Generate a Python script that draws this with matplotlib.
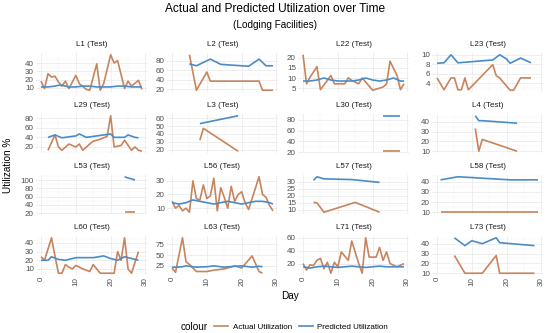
import matplotlib
matplotlib.use("Agg")
import matplotlib.pyplot as plt
from matplotlib.lines import Line2D
import numpy as np

plt.rcParams['font.family'] = ['Liberation Sans', 'DejaVu Sans']

# ---------------- data ----------------
L1_act_days = [0, 1, 2, 3, 4, 5, 6, 7, 8, 10, 11, 13, 14, 16, 17, 18, 20, 21, 22, 24, 25, 26, 28, 29]
L1_act = [18, 9, 27, 23, 24, 17, 12, 18, 9, 25, 15, 8, 7, 39, 7, 15, 50, 40, 43, 9, 18, 12, 19, 8]
L1_pred_days = [0, 2, 4, 5, 6, 8, 10, 12, 14, 16, 18, 20, 22, 24, 26, 28, 29]
L1_pred = [11, 11, 12, 13, 13, 11, 11, 12, 12, 11, 11, 11, 12, 12, 11, 11, 11]
L1_ticks = [10, 20, 30, 40]

L2_act_days = [5, 7, 10, 11, 25, 26, 29]
L2_act = [92, 18, 56, 37, 37, 18, 18]
L2_pred_days = [5, 7, 11, 14, 22, 25, 27, 29]
L2_pred = [73, 69, 83, 72, 68, 83, 69, 69]
L2_ticks = [20, 40, 60, 80]

L22_act_days = [0, 1, 2, 4, 5, 7, 8, 9, 12, 13, 14, 16, 17, 18, 20, 23, 24, 25, 27, 28, 29]
L22_act = [21.6, 7.1, 10.4, 15.7, 4.2, 8.8, 11.3, 7.1, 7.1, 10.1, 8.8, 7.1, 10, 8, 3.9, 5.5, 7.1, 18.4, 11.3, 4.2, 7.1]
L22_pred_days = [0, 2, 4, 6, 8, 10, 12, 14, 16, 18, 20, 22, 24, 26, 28, 29]
L22_pred = [8.5, 8.5, 9, 10, 9, 8.5, 8.5, 8.5, 9, 10, 9, 8.5, 9, 10, 8.5, 8.5]
L22_ticks = [5, 10, 15, 20]

L23_act_days = [0, 2, 4, 5, 6, 7, 8, 9, 16, 17, 18, 21, 22, 24, 27]
L23_act = [5.1, 2.6, 5.1, 5.1, 2.6, 2.6, 5.1, 2.6, 7.9, 5.6, 5.1, 2.5, 2.5, 5.1, 5.1]
L23_pred_days = [0, 2, 4, 6, 16, 18, 20, 21, 24, 27]
L23_pred = [8.2, 8.3, 10, 8.3, 8.9, 10, 9.1, 8.2, 9.3, 8.3]
L23_ticks = [4, 6, 8, 10]

L29_act_days = [2, 4, 5, 6, 8, 10, 11, 12, 14, 15, 17, 19, 20, 21, 23, 24, 26, 27, 28, 29]
L29_act = [13, 45, 20, 13, 26, 20, 26, 13, 26, 32, 36, 42, 85, 20, 23, 34, 13, 20, 13, 11]
L29_pred_days = [2, 4, 6, 10, 11, 13, 18, 20, 21, 24, 25, 27, 28]
L29_pred = [40, 45, 39, 43, 47, 40, 45, 47, 40, 40, 45, 40, 39]
L29_ticks = [20, 40, 60, 80]

L3_act_days = [8, 9, 19]
L3_act = [32, 47, 18]
L3_pred_days = [8, 9, 19]
L3_pred = [53, 54, 63]
L3_ticks = [20, 30, 40, 50, 60]

L30_act_days = [23, 24, 25, 26, 27, 28]
L30_act = [22, 22, 22, 22, 22, 22]
L30_pred_days = [23, 24, 25, 26, 27, 28]
L30_pred = [87, 87, 87, 87, 87, 87]
L30_ticks = [20, 40, 60, 80]

L4_act_days = [11, 12, 13, 23]
L4_act = [33, 10, 22, 10]
L4_pred_days = [11, 12, 13, 23]
L4_pred = [46, 41, 41, 38.5]
L4_ticks = [10, 20, 30, 40]

L53_act_days = [24, 25, 26, 27]
L53_act = [22, 22, 22, 22]
L53_pred_days = [24, 25, 26, 27]
L53_pred = [108, 105, 103, 100]
L53_ticks = [20, 40, 60, 80, 100]

L56_act_days = [0, 1, 2, 3, 4, 5, 6, 7, 8, 9, 10, 11, 12, 13, 14, 15, 16, 17, 18, 19, 20, 21, 22, 23, 24, 25, 26, 27, 28, 29]
L56_act = [15, 10, 12, 8, 10, 7, 30, 17, 16, 27, 17, 19, 32, 8, 25, 18, 10, 26, 15, 20, 22, 14, 9, 17, 25, 33, 20, 18, 12, 8]
L56_pred_days = [0, 2, 4, 6, 8, 10, 12, 14, 16, 18, 20, 22, 24, 26, 28, 29]
L56_pred = [14, 13, 14, 16, 15, 14, 13, 14, 15, 14, 13, 14, 15, 15, 14, 13]
L56_ticks = [10, 20, 30]

L57_act_days = [3, 4, 6, 15, 22]
L57_act = [15.3, 15, 8.3, 15.3, 8.3]
L57_pred_days = [3, 4, 6, 14, 22]
L57_pred = [31, 33.5, 32, 31.5, 29.5]
L57_ticks = [10, 15, 20, 25, 30]

L58_act_days = [1, 6, 21, 29]
L58_act = [10, 10, 10, 10]
L58_pred_days = [1, 6, 21, 29]
L58_pred = [41.7, 44.7, 41.7, 41.7]
L58_ticks = [10, 20, 30, 40]

L60_act_days = [0, 1, 3, 4, 5, 6, 7, 8, 9, 10, 12, 14, 15, 17, 19, 21, 22, 23, 24, 25, 26, 28]
L60_act = [24, 20, 46, 25, 5, 5, 15, 12, 10, 14, 10, 7, 15, 5, 5, 5, 30, 20, 46, 10, 5, 30]
L60_pred_days = [0, 2, 3, 5, 7, 10, 15, 18, 20, 22, 24, 26, 28]
L60_pred = [20, 20, 24, 21, 20, 23, 23, 25, 22, 20, 24, 22, 20]
L60_ticks = [10, 20, 30, 40]

L63_act_days = [0, 1, 3, 4, 5, 7, 10, 12, 15, 18, 20, 23, 25, 26]
L63_act = [20, 10, 90, 35, 28, 12, 12, 15, 18, 25, 20, 48, 12, 8]
L63_pred_days = [0, 1, 3, 4, 5, 7, 10, 12, 15, 18, 20, 23, 25, 26]
L63_pred = [22, 22, 23, 25, 24, 22, 23, 25, 22, 24, 25, 22, 24, 23]
L63_ticks = [25, 50, 75]

L71_act_days = [0, 1, 2, 3, 4, 5, 6, 7, 8, 9, 10, 11, 13, 14, 16, 17, 18, 19, 21, 22, 23, 24, 25, 27, 29]
L71_act = [20, 10, 18, 17, 25, 28, 12, 22, 5, 22, 15, 38, 25, 55, 20, 5, 60, 30, 30, 45, 25, 38, 20, 15, 20]
L71_pred_days = [0, 2, 4, 6, 8, 10, 12, 14, 16, 18, 20, 22, 24, 26, 28, 29]
L71_pred = [15, 13, 15, 16, 15, 14, 15, 16, 15, 14, 15, 16, 15, 15, 15, 15]
L71_ticks = [20, 40, 60]

L73_act_days = [5, 8, 13, 17, 18, 28]
L73_act = [28, 10, 10, 28, 10, 10]
L73_pred_days = [5, 8, 10, 13, 17, 18, 28]
L73_pred = [46, 38, 43, 40, 46, 41, 38]
L73_ticks = [10, 20, 30, 40]

panel_titles = ["L1 (Test)", "L2 (Test)", "L22 (Test)", "L23 (Test)",
                "L29 (Test)", "L3 (Test)", "L30 (Test)", "L4 (Test)",
                "L53 (Test)", "L56 (Test)", "L57 (Test)", "L58 (Test)",
                "L60 (Test)", "L63 (Test)", "L71 (Test)", "L73 (Test)"]
panel_data = [
    (L1_act_days, L1_act, L1_pred_days, L1_pred, L1_ticks),
    (L2_act_days, L2_act, L2_pred_days, L2_pred, L2_ticks),
    (L22_act_days, L22_act, L22_pred_days, L22_pred, L22_ticks),
    (L23_act_days, L23_act, L23_pred_days, L23_pred, L23_ticks),
    (L29_act_days, L29_act, L29_pred_days, L29_pred, L29_ticks),
    (L3_act_days, L3_act, L3_pred_days, L3_pred, L3_ticks),
    (L30_act_days, L30_act, L30_pred_days, L30_pred, L30_ticks),
    (L4_act_days, L4_act, L4_pred_days, L4_pred, L4_ticks),
    (L53_act_days, L53_act, L53_pred_days, L53_pred, L53_ticks),
    (L56_act_days, L56_act, L56_pred_days, L56_pred, L56_ticks),
    (L57_act_days, L57_act, L57_pred_days, L57_pred, L57_ticks),
    (L58_act_days, L58_act, L58_pred_days, L58_pred, L58_ticks),
    (L60_act_days, L60_act, L60_pred_days, L60_pred, L60_ticks),
    (L63_act_days, L63_act, L63_pred_days, L63_pred, L63_ticks),
    (L71_act_days, L71_act, L71_pred_days, L71_pred, L71_ticks),
    (L73_act_days, L73_act, L73_pred_days, L73_pred, L73_ticks),
]
x_ticks = [0, 10, 20, 30]
legend_labels = ["Actual Utilization", "Predicted Utilization"]

# ---------------- style / layout ----------------
W, H, DPI = 550, 333, 100
C_ACT = "#C8845C"
C_PRED = "#4A8CC8"
GRID = "#EBEBEB"
col_left = [36, 167, 298, 432]
panel_w = 111
row_top = [53, 114, 175, 236]
panel_h = 39

fig = plt.figure(figsize=(W / DPI, H / DPI), dpi=DPI)
fig.patch.set_facecolor("white")

def px_axes(left, top, w, h):
    return fig.add_axes([left / W, 1 - (top + h) / H, w / W, h / H])

for i, (title, (ad, av, pd_, pv, ticks)) in enumerate(zip(panel_titles, panel_data)):
    r, c = divmod(i, 4)
    ax = px_axes(col_left[c], row_top[r], panel_w, panel_h)
    ax.plot(ad, av, color=C_ACT, lw=1.2, solid_capstyle="butt", zorder=3)
    ax.plot(pd_, pv, color=C_PRED, lw=1.2, solid_capstyle="butt", zorder=3)
    allv = list(av) + list(pv)
    lo, hi = min(allv), max(allv)
    pad = 0.05 * (hi - lo)
    ax.set_xlim(-1.45, 30.45)
    ax.set_xticks(x_ticks)
    ax.set_xticks([5, 15, 25], minor=True)
    ax.set_yticks(ticks)
    mids = [(a + b) / 2 for a, b in zip(ticks[:-1], ticks[1:])]
    step = ticks[1] - ticks[0]
    mids = [ticks[0] - step / 2] + mids + [ticks[-1] + step / 2]
    ax.set_yticks(mids, minor=True)
    ax.set_ylim(lo - pad, hi + pad)
    ax.grid(which="major", color=GRID, lw=0.6)
    ax.grid(which="minor", color="#F3F3F3", lw=0.35)
    ax.set_axisbelow(True)
    for s in ax.spines.values():
        s.set_visible(False)
    ax.tick_params(which="both", length=0, labelsize=5.8, colors="#4D4D4D", pad=1.5)
    ax.set_yticklabels([str(t) for t in ticks])
    if r == 3:
        ax.set_xticklabels([str(t) for t in x_ticks], rotation=90)
    else:
        ax.set_xticklabels([])
    fig.text((col_left[c] + panel_w / 2) / W, 1 - (row_top[r] - 8.5) / H, title,
             ha="center", va="center", fontsize=5.8, color="#1A1A1A")

fig.text(275 / W, 1 - 9.5 / H, "Actual and Predicted Utilization over Time",
         ha="center", va="center", fontsize=8.6, color="black")
fig.text(275 / W, 1 - 25 / H, "(Lodging Facilities)",
         ha="center", va="center", fontsize=7.2, color="black")
fig.text(290 / W, 1 - 296 / H, "Day", ha="center", va="center", fontsize=7.2)
fig.text(8 / W, 1 - 165 / H, "Utilization %", ha="center", va="center",
         rotation=90, fontsize=7.2)

handles = [Line2D([], [], color=C_ACT, lw=1.2), Line2D([], [], color=C_PRED, lw=1.2)]
fig.text(181 / W, 1 - 327 / H, "colour", ha="left", va="center", fontsize=7.2)
fig.legend(handles, legend_labels, loc="center left", bbox_to_anchor=(214 / W, 1 - 327 / H),
           ncol=2, frameon=False, fontsize=5.8, handlelength=1.7, handletextpad=0.6,
           columnspacing=0.9, borderpad=0, borderaxespad=0)

fig.savefig("out.png", dpi=DPI, facecolor="white")
